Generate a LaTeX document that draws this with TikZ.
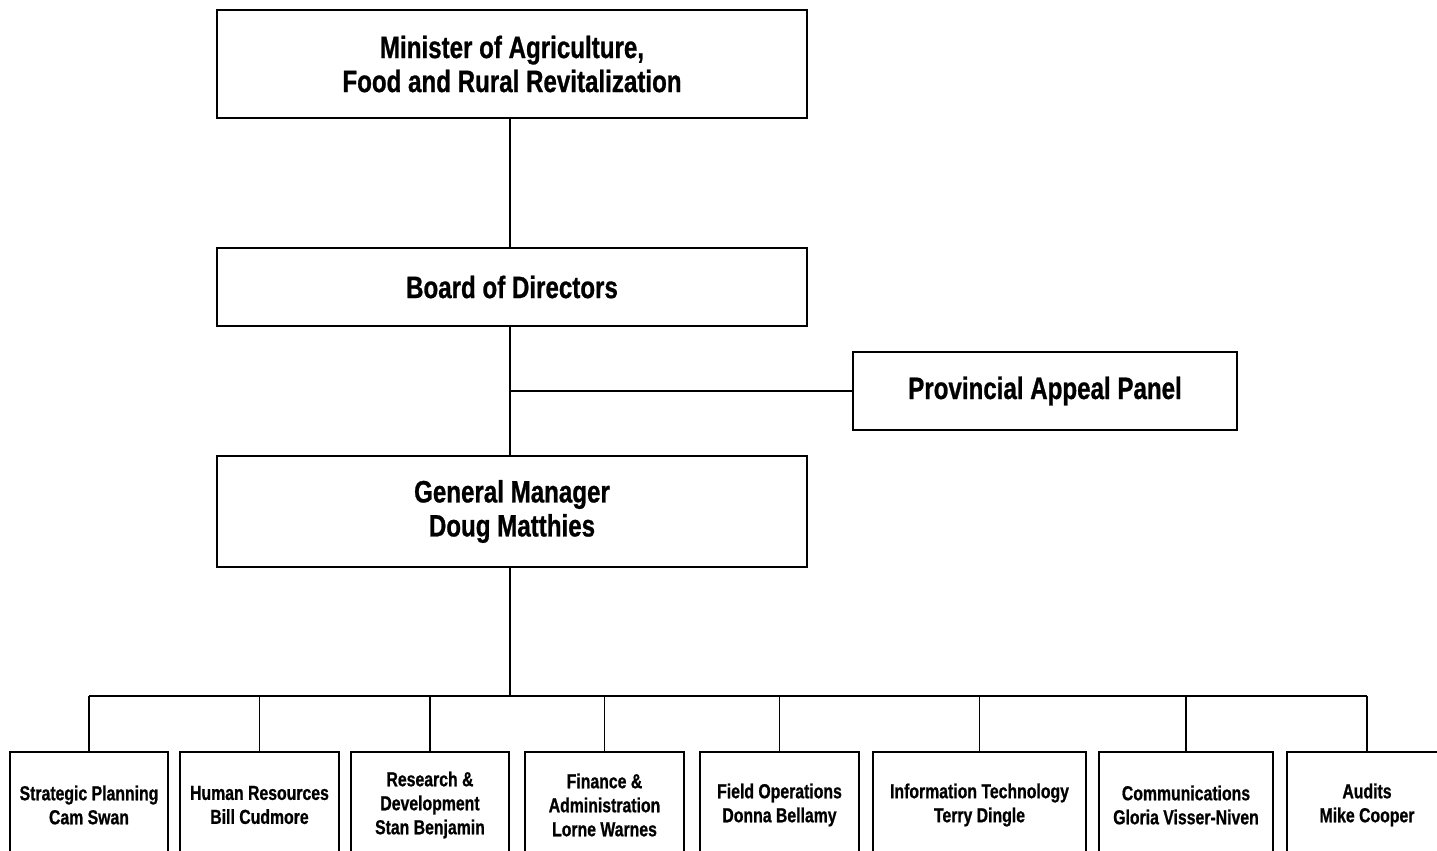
\documentclass[tikz,border=0pt]{standalone}
\usepackage{fontspec}
\setmainfont{Liberation Sans}[FakeStretch=0.78,BoldFeatures={FakeBold=0.8}]
\begin{document}
\begin{tikzpicture}[x=0.75pt,y=-0.75pt,
  box/.style={draw=black,line width=1pt,fill=white,align=center,inner sep=0pt,font=\bfseries},
  big/.style={box,font=\fontsize{23.2}{25.5}\selectfont\bfseries},
  small/.style={box,font=\fontsize{15.2}{18}\selectfont\bfseries,minimum height=79.5pt},
  link/.style={line width=1pt}]
\useasboundingbox (0,0) rectangle (1437,850);
\clip (0,0) rectangle (1437,850);
\node[big,minimum width=442.5pt,minimum height=81pt] (min) at (512,64) {Minister of Agriculture,\\Food and Rural Revitalization};
\node[big,minimum width=442.5pt,minimum height=58.5pt] (board) at (512,287) {Board of Directors};
\node[big,minimum width=288pt,minimum height=58.5pt] (panel) at (1045,391) {Provincial Appeal Panel};
\node[big,minimum width=442.5pt,minimum height=83.25pt] (gm) at (512,511.5) {General Manager\\Doug Matthies};
\coordinate (bus) at (510,696);
\coordinate (br) at (510,391);
\node[small,minimum width=118.5pt] (b1) at (89,805) {Strategic Planning\\Cam Swan};
\node[small,minimum width=119.25pt] (b2) at (259.5,805) {Human Resources\\Bill Cudmore};
\node[small,minimum width=118.5pt] (b3) at (430,805) {Research \&\\Development\\Stan Benjamin};
\node[small,minimum width=119.25pt] (b4) at (604.5,805) {Finance \&\\Administration\\Lorne Warnes};
\node[small,minimum width=119.25pt] (b5) at (779.5,805) {Field Operations\\Donna Bellamy};
\node[small,minimum width=159.75pt] (b6) at (979.5,805) {Information Technology\\Terry Dingle};
\node[small,minimum width=130.5pt] (b7) at (1186,805) {Communications\\Gloria Visser-Niven};
\node[small,minimum width=120pt] (b8) at (1367,805) {Audits\\Mike Cooper};
\draw[link] (min.south -| bus) -- (board.north -| bus);
\draw[link] (board.south -| bus) -- (gm.north -| bus);
\draw[link] (br) -- (panel.west);
\draw[link] (gm.south -| bus) -- (bus);
\draw[link] (b1.north |- bus) -- (b8.north |- bus);
\foreach \b in {b1,b2,b3,b4,b5,b6,b7,b8}
  \draw[link] (\b.north) -- (\b.north |- bus);
\end{tikzpicture}
\end{document}
